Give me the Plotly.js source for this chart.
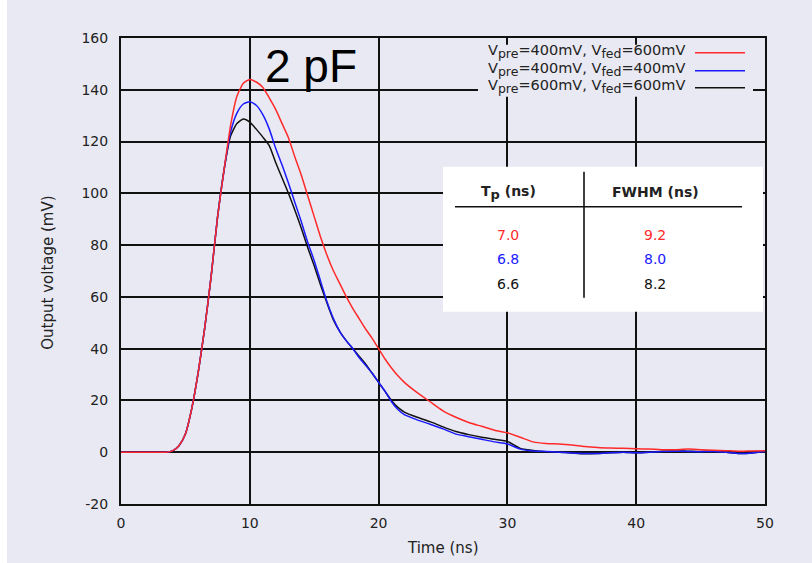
<!DOCTYPE html>
<html>
<head>
<meta charset="utf-8">
<script src="https://cdn.plot.ly/plotly-3.0.1.min.js"></script>
<style>
html,body{margin:0;padding:0;background:#ffffff;}
#chart{position:absolute;left:7px;top:0;width:805px;height:563px;}
</style>
</head>
<body>
<div id="chart"></div>
<script>
// ---- data ----
const timeNs = [0, 1, 2, 3, 3.5, 4, 4.5, 5, 5.5, 6, 6.5, 7, 7.5, 8, 8.5, 9, 9.5, 10, 10.5, 11, 11.5, 12, 12.5, 13, 13.5, 14, 14.5, 15, 15.5, 16, 16.5, 17, 17.5, 18, 18.5, 19, 19.5, 20, 20.5, 21, 21.5, 22, 23, 24, 25, 26, 27, 28, 29, 30, 31, 32, 33, 34, 35, 36, 37, 38, 39, 40, 41, 42, 43, 44, 45, 46, 47, 48, 49, 50];

const vRed = [0, 0, 0, 0, 0, 0.5, 2.5, 7, 17, 31, 48, 68, 91, 109, 126, 137.5, 142.5, 144, 143, 141, 137, 132.5, 127, 121.5, 114, 107, 99, 91, 83, 76, 70, 65, 60, 55.5, 51.5, 47.5, 44, 40, 36, 32.5, 29.5, 27, 23, 19.5, 16, 13.5, 11.5, 10, 8.5, 7.5, 5.8, 4, 3.4, 3.2, 2.8, 2.2, 1.8, 1.6, 1.5, 1.3, 1.2, 1.0, 1.0, 1.2, 1.0, 0.8, 0.6, 0.4, 0.5, 0.6];

const vBlue = [0, 0, 0, 0, 0, 0.5, 2.5, 7, 17, 31, 48, 68, 91, 109, 123.5, 131, 134.5, 135.4, 134, 130.5, 125, 117.5, 111, 104, 96.5, 89, 81, 74, 66, 58, 51.5, 46.5, 43, 40, 36.5, 33.5, 30.5, 27, 23.5, 19.5, 16.5, 14.5, 12.5, 10.8, 9, 7, 6, 5, 4, 3.2, 1.2, 0.5, 0.3, 0, -0.3, -0.5, -0.5, -0.2, 0, -0.2, 0, 0.3, 0.4, 0.3, 0.2, 0.3, 0, -0.5, -0.3, 0.3];

const vBlack = [0, 0, 0, 0, 0, 0.5, 2.5, 7, 17, 31, 48, 68, 91, 109, 122, 127, 128.7, 127.5, 124.8, 121.8, 118.5, 112, 106, 100, 93.5, 86.5, 79, 72, 64.5, 57.5, 51, 46.5, 43, 40, 37, 34, 30.5, 27, 23.5, 20, 17.3, 15.5, 13.5, 11.8, 9.8, 8, 6.8, 5.8, 5, 4.2, 1.5, 0.7, 0.2, 0, -0.3, -0.6, -0.5, -0.2, 0, -0.2, 0, 0.4, 0.5, 0.4, 0.3, 0.4, 0, -0.5, -0.3, 0.3];

const SUB = s => '<sub><span style="font-size:12.5px">' + s + '</span></sub>';
const seriesNames = ['V' + SUB('pre') + '=400mV, V' + SUB('fed') + '=600mV',
                     'V' + SUB('pre') + '=400mV, V' + SUB('fed') + '=400mV',
                     'V' + SUB('pre') + '=600mV, V' + SUB('fed') + '=600mV'];
const seriesColors = ['#ff2a2a', '#1a1aff', '#111111'];
const tpValues = ['7.0', '6.8', '6.6'];
const fwhmValues = ['9.2', '8.0', '8.2'];
const xTicks = [0, 10, 20, 30, 40, 50];
const yTicks = [-20, 0, 20, 40, 60, 80, 100, 120, 140, 160];

// ---- layout helpers (page pixels -> paper fractions) ----
const PL = 121, PR = 765, PT = 38.3, PB = 504.3;
const fx = x => (x - PL) / (PR - PL);
const fy = y => (PB - y) / (PB - PT);
const FONT = 'DejaVu Sans, Verdana, sans-serif';
const FONT2 = 'Liberation Sans, Arial, sans-serif';
const BG = '#e9e9f3';
const TXT = '#222';

const traces = [vBlack, vBlue, vRed].map((v, j) => {
  const i = 2 - j;
  return {
    x: timeNs, y: v, type: 'scatter', mode: 'lines', name: seriesNames[i],
    line: {color: seriesColors[i], width: 1.5, shape: 'spline', smoothing: 0.6},
    showlegend: false, hoverinfo: 'skip'
  };
});

const shapes = [
  {type: 'rect', xref: 'paper', yref: 'paper', x0: fx(478), x1: fx(753), y0: fy(97), y1: fy(45),
   fillcolor: BG, line: {width: 0}, layer: 'above'},
  {type: 'rect', xref: 'paper', yref: 'paper', x0: fx(443), x1: fx(763), y0: fy(312), y1: fy(167),
   fillcolor: '#ffffff', line: {width: 0}, layer: 'above'},
  {type: 'line', xref: 'paper', yref: 'paper', x0: fx(455), x1: fx(742), y0: fy(207), y1: fy(207),
   line: {color: '#111', width: 1.6}, layer: 'above'},
  {type: 'line', xref: 'paper', yref: 'paper', x0: fx(584), x1: fx(584), y0: fy(172), y1: fy(298),
   line: {color: '#111', width: 1.6}, layer: 'above'}
];
const legendRows = [53, 71, 88];
const annotations = [];
seriesNames.forEach((n, i) => {
  shapes.push({type: 'line', xref: 'paper', yref: 'paper', x0: fx(695), x1: fx(745),
    y0: fy(legendRows[i]), y1: fy(legendRows[i]), line: {color: seriesColors[i], width: 1.6}, layer: 'above'});
  annotations.push({xref: 'paper', yref: 'paper', x: fx(687), y: fy(legendRows[i] - 1), xanchor: 'right', yanchor: 'middle',
    text: n, showarrow: false, font: {family: FONT, size: 14.5, color: TXT}});
});
const rowsY = [235, 259, 284];
tpValues.forEach((t, i) => {
  annotations.push({xref: 'paper', yref: 'paper', x: fx(508), y: fy(rowsY[i]), xanchor: 'center', yanchor: 'middle',
    text: t, showarrow: false, font: {family: FONT, size: 14, color: seriesColors[i]}});
  annotations.push({xref: 'paper', yref: 'paper', x: fx(655), y: fy(rowsY[i]), xanchor: 'center', yanchor: 'middle',
    text: fwhmValues[i], showarrow: false, font: {family: FONT, size: 14, color: seriesColors[i]}});
});
annotations.push({xref: 'paper', yref: 'paper', x: fx(508), y: fy(193), xanchor: 'center', yanchor: 'middle',
  text: '<b>T' + '<sub><span style="font-size:13px">p</span></sub>' + ' (ns)</b>', showarrow: false, font: {family: FONT, size: 14, color: TXT}});
annotations.push({xref: 'paper', yref: 'paper', x: fx(655), y: fy(192), xanchor: 'center', yanchor: 'middle',
  text: '<b>FWHM (ns)</b>', showarrow: false, font: {family: FONT, size: 14, color: TXT}});
annotations.push({xref: 'paper', yref: 'paper', x: fx(311), y: fy(66), xanchor: 'center', yanchor: 'middle',
  text: '2 pF', showarrow: false, font: {family: FONT2, size: 46, color: '#000'}});
annotations.push({xref: 'paper', yref: 'paper', x: fx(48), y: fy(273), xanchor: 'center', yanchor: 'middle',
  text: 'Output voltage (mV)', textangle: -90, showarrow: false, font: {family: FONT, size: 15, color: TXT}});
annotations.push({xref: 'paper', yref: 'paper', x: fx(443), y: fy(548), xanchor: 'center', yanchor: 'middle',
  text: 'Time (ns)', showarrow: false, font: {family: FONT, size: 15, color: TXT}});

const axisCommon = {
  showgrid: true, gridcolor: '#111', gridwidth: 2, zeroline: false,
  showline: true, linecolor: '#111', linewidth: 2, mirror: true, ticks: '',
  tickfont: {family: FONT, size: 14, color: TXT}, fixedrange: true
};

const layout = {
  width: 805, height: 563,
  margin: {l: PL - 7, r: 805 - (PR - 7), t: PT, b: 563 - PB},
  paper_bgcolor: BG, plot_bgcolor: BG,
  showlegend: false,
  xaxis: Object.assign({}, axisCommon, {range: [0, 50], tickvals: xTicks, ticktext: xTicks.map(String), ticklabelstandoff: 5}),
  yaxis: Object.assign({}, axisCommon, {range: [-20, 160], tickvals: yTicks, ticktext: yTicks.map(String), ticklabelstandoff: 8}),
  shapes: shapes,
  annotations: annotations
};

Plotly.newPlot('chart', traces, layout, {staticPlot: true, displayModeBar: false});
</script>
</body>
</html>
